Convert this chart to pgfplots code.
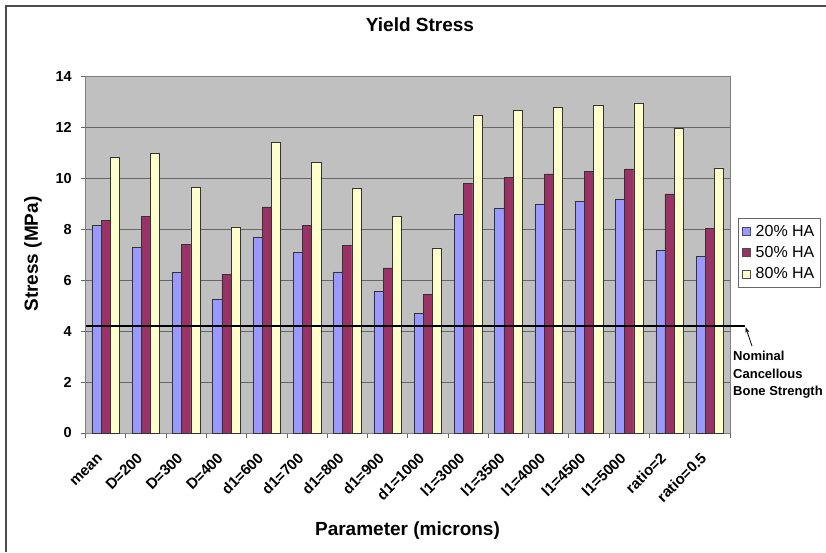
\documentclass[border=0pt]{standalone}
\usepackage{fontspec}
\setmainfont{Liberation Sans}
\usepackage{pgfplots}
\pgfplotsset{compat=1.18}
\usepackage{pgfplotstable}
\usetikzlibrary{arrows.meta}
\definecolor{bA}{HTML}{9999FF}
\definecolor{bB}{HTML}{993366}
\definecolor{bC}{HTML}{FFFFCC}
\definecolor{plotbg}{HTML}{C0C0C0}
\pgfplotstableread{
x a b c
0 8.16 8.35 10.82
1 7.30 8.52 10.99
2 6.30 7.41 9.64
3 5.27 6.22 8.09
4 7.69 8.88 11.40
5 7.08 8.16 10.62
6 6.33 7.38 9.63
7 5.57 6.48 8.50
8 4.70 5.43 7.27
9 8.60 9.81 12.49
10 8.83 10.03 12.68
11 9.00 10.18 12.79
12 9.10 10.28 12.89
13 9.17 10.37 12.96
14 7.16 9.39 11.97
15 6.94 8.05 10.41
}\data
\begin{document}
\begin{tikzpicture}
\useasboundingbox (0pt,0pt) rectangle (826pt,552pt);
\clip (0pt,0pt) rectangle (826pt,552pt);
\draw[line width=1.5pt, black!70] (6pt,0pt) -- (6pt,546pt) -- (826pt,546pt);
\begin{axis}[
  at={(85.5pt,119pt)}, anchor=south west,
  scale only axis, width=644.5pt, height=356.5pt,
  xmin=-0.5, xmax=15.5, ymin=0, ymax=14,
  clip=false,
  ybar=0pt, bar width=9.2pt,
  axis background/.style={fill=plotbg},
  axis line style={black!50, line width=0.8pt},
  tick pos=left, tick align=outside,
  xtick={0,...,15},
  xticklabels={mean,D=200,D=300,D=400,d1=600,d1=700,d1=800,d1=900,d1=1000,l1=3000,l1=3500,l1=4000,l1=4500,l1=5000,ratio=2,ratio=0.5},
  minor xtick={-0.5,0.5,...,15.5},
  major x tick style={draw=none},
  minor x tick style={black!60, line width=0.8pt},
  minor tick length=5pt,
  major tick length=5pt,
  ytick={0,2,...,14},
  y tick style={black!60, line width=0.8pt},
  ymajorgrids,
  major grid style={black!60, line width=1pt},
  /pgf/number format/assume math mode=true,
  yticklabel style={font=\fontsize{14.5}{17}\selectfont\bfseries, anchor=east, inner sep=0pt, xshift=-8.5pt},
  xticklabel style={font=\fontsize{15}{17}\selectfont\bfseries, inner sep=0pt, text height=1.4ex, text depth=0.3ex, xshift=-4.5pt, yshift=-19pt, rotate=45, anchor=east},
  legend style={at={(1.0124,0.603)}, anchor=north west, draw=black!60, fill=white,
    font=\fontsize{16}{18}\selectfont, inner xsep=4pt, inner ysep=5pt, row sep=4.5pt,
    /tikz/every odd column/.append style={column sep=3pt}},
  legend cell align=left,
]
\addplot[fill=bA, draw=black!80, line width=0.5pt, legend image code/.code={\draw[fill=bA, draw=black!70, line width=0.5pt] (0pt,-4pt) rectangle (8pt,4pt);}] table[x=x, y=a] {\data};
\addlegendentry{20\% HA}
\addplot[fill=bB, draw=black!80, line width=0.5pt, legend image code/.code={\draw[fill=bB, draw=black!70, line width=0.5pt] (0pt,-4pt) rectangle (8pt,4pt);}] table[x=x, y=b] {\data};
\addlegendentry{50\% HA}
\addplot[fill=bC, draw=black!80, line width=0.5pt, legend image code/.code={\draw[fill=bC, draw=black!70, line width=0.5pt] (0pt,-4pt) rectangle (8pt,4pt);}] table[x=x, y=c] {\data};
\addlegendentry{80\% HA}
\addplot[sharp plot, black, line width=2.2pt, forget plot] coordinates {(-0.5,4.2) (15.87,4.2)};
\end{axis}
\draw[black, line width=0.8pt, -{Stealth[length=6pt,width=4pt]}] (752pt,206pt) -- (745.5pt,225pt);
\node[anchor=north west, inner sep=0pt, align=left, font=\fontsize{13}{17.5}\selectfont\bfseries] at (733pt,201pt) {Nominal\\Cancellous\\Bone Strength};
\node[font=\fontsize{19}{22}\selectfont\bfseries] at (420pt,527pt) {Yield Stress};
\node[font=\fontsize{19}{22}\selectfont\bfseries, rotate=90] at (33pt,298pt) {Stress (MPa)};
\node[font=\fontsize{19}{22}\selectfont\bfseries] at (407.5pt,21pt) {Parameter (microns)};
\end{tikzpicture}
\end{document}
